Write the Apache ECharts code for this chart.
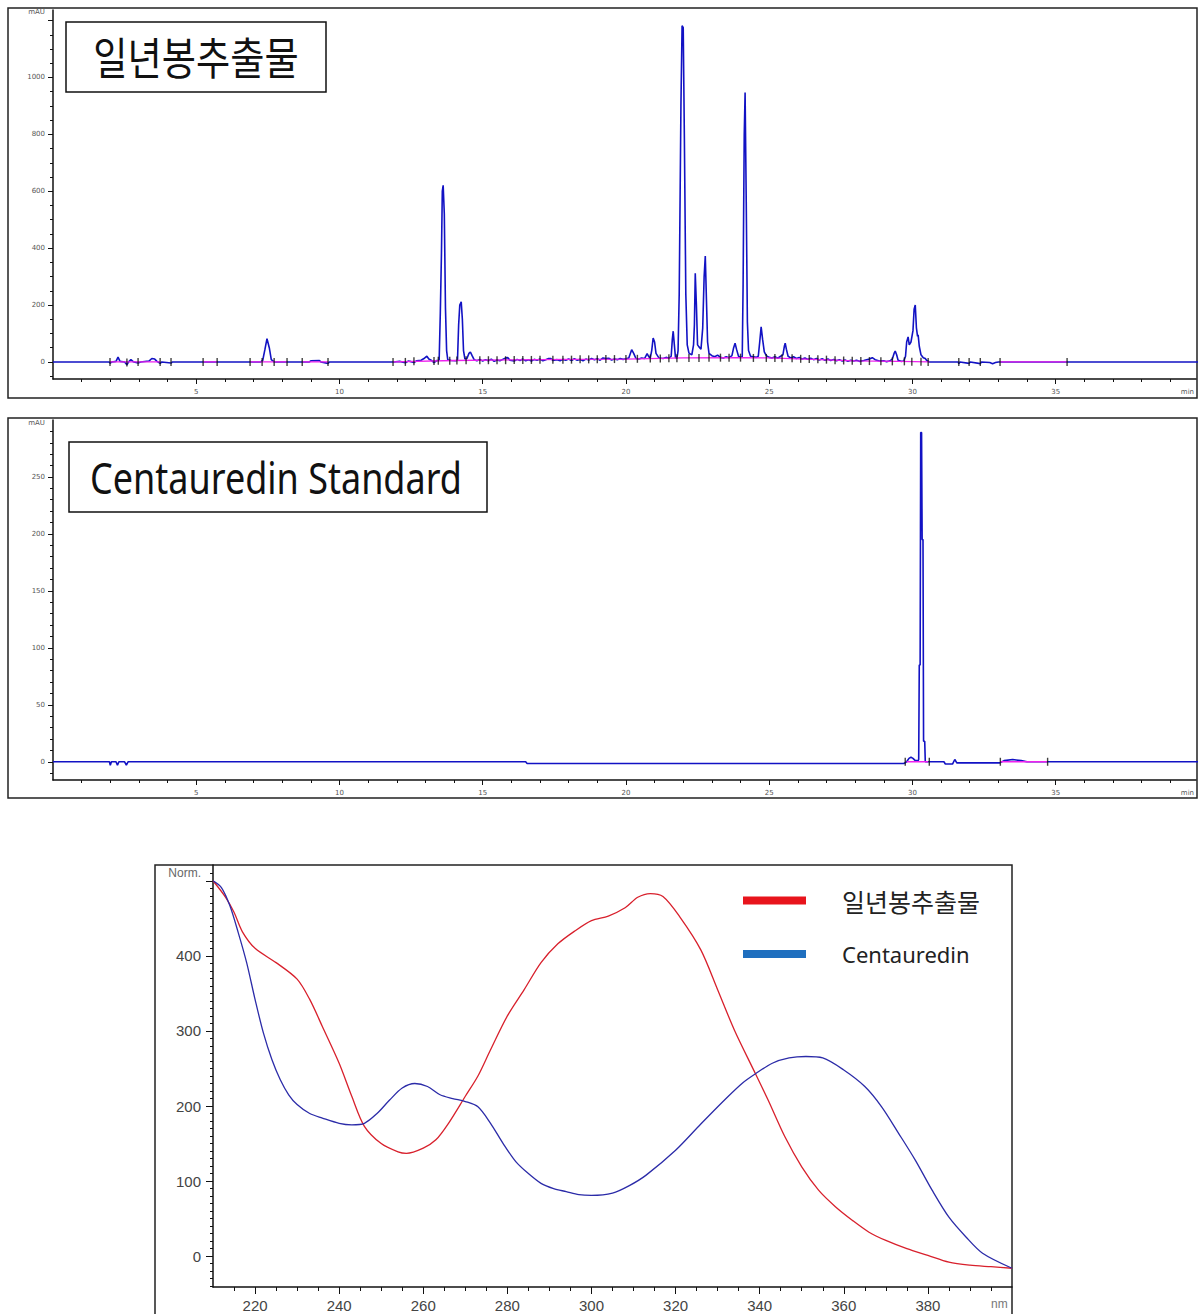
<!DOCTYPE html>
<html>
<head>
<meta charset="utf-8">
<script src="https://cdn.jsdelivr.net/npm/echarts@6/dist/echarts.min.js"></script>
<style>
html,body{margin:0;padding:0;background:#fff;}
#c{width:1201px;height:1314px;}
</style>
</head>
<body>
<div id="c"></div>
<script>
// ---------- Panel 1: 일년봉추출물 chromatogram (time min, mAU) ----------
const topTrace = [
[0,0],[1.95,0],[2.0,-4],[2.05,0],[2.2,2],[2.27,17],[2.34,2],[2.5,0],[2.58,-10],[2.64,0],[2.72,8],[2.8,1],[2.97,-4],[3.05,0],
[3.35,3],[3.45,12],[3.55,10],[3.63,2],[3.74,-5],[3.8,0],[4.12,-4],[4.17,0],[7.25,0],[7.32,5],[7.4,45],[7.47,82],[7.55,50],[7.62,8],[7.72,0],
[8.95,0],[9.0,4],[9.3,5],[9.35,0],[9.6,-5],[9.65,0],[11.9,0],[12.1,2],[12.3,-3],[12.4,3],[12.5,1],[12.6,-2],[12.7,4],[12.85,6],[12.95,12],
[13.05,20],[13.12,10],[13.2,6],[13.3,-2],[13.4,5],[13.48,6],[13.52,170],[13.56,380],[13.59,600],[13.62,621],[13.66,520],[13.7,190],[13.74,40],
[13.78,8],[13.9,5],[14.05,4],[14.12,6],[14.16,130],[14.2,200],[14.25,211],[14.29,150],[14.33,40],[14.38,10],[14.45,12],[14.52,30],[14.57,35],
[14.63,22],[14.7,8],[14.8,4],[14.9,9],[15.0,3],[15.1,8],[15.2,4],[15.3,10],[15.4,2],[15.5,7],[15.6,4],[15.7,9],[15.8,14],[15.88,15],[15.95,6],
[16.1,3],[16.2,9],[16.3,5],[16.4,10],[16.5,4],[16.6,8],[16.7,3],[16.8,9],[16.9,6],[17.0,10],[17.1,4],[17.2,8],[17.3,12],[17.38,12],[17.45,5],
[17.6,8],[17.7,4],[17.8,9],[17.9,6],[18.0,10],[18.1,5],[18.2,11],[18.3,6],[18.4,9],[18.5,4],[18.6,10],[18.7,7],[18.8,12],[18.9,8],[19.0,11],
[19.1,6],[19.2,14],[19.3,12],[19.4,13],[19.5,7],[19.6,10],[19.7,8],[19.8,12],[19.9,9],[20.0,11],[20.1,14],[20.2,43],[20.27,30],[20.35,12],
[20.45,10],[20.55,14],[20.65,12],[20.74,29],[20.8,18],[20.85,14],[20.9,40],[20.95,84],[21.0,70],[21.05,30],[21.15,14],[21.3,12],[21.4,16],
[21.5,13],[21.58,20],[21.62,80],[21.65,108],[21.69,60],[21.73,15],[21.78,12],[21.82,40],[21.86,240],[21.92,900],[21.96,1182],[22.0,1175],
[22.04,790],[22.09,240],[22.14,60],[22.2,31],[22.3,25],[22.36,60],[22.39,130],[22.42,312],[22.46,200],[22.5,60],[22.55,53],[22.62,45],
[22.68,119],[22.73,300],[22.77,372],[22.81,220],[22.85,70],[22.9,30],[23.0,22],[23.1,18],[23.2,24],[23.3,16],[23.4,14],[23.5,18],[23.6,15],
[23.7,22],[23.76,50],[23.81,66],[23.86,45],[23.93,20],[24.0,16],[24.06,18],[24.09,270],[24.13,800],[24.16,947],[24.2,561],[24.24,140],
[24.28,40],[24.35,20],[24.45,18],[24.55,16],[24.62,20],[24.67,70],[24.72,123],[24.77,80],[24.83,35],[24.9,22],[25.0,16],[25.1,14],[25.2,18],
[25.3,13],[25.4,20],[25.48,25],[25.53,55],[25.56,66],[25.6,45],[25.66,20],[25.75,14],[25.85,18],[25.95,12],[26.05,16],[26.15,10],[26.25,14],
[26.35,9],[26.45,13],[26.55,8],[26.65,12],[26.75,7],[26.85,11],[26.95,6],[27.05,10],[27.15,5],[27.25,9],[27.35,4],[27.45,8],[27.55,3],
[27.65,7],[27.75,2],[27.85,6],[27.95,3],[28.05,6],[28.15,2],[28.3,5],[28.5,10],[28.6,15],[28.7,8],[28.85,3],[29.0,4],[29.1,1],[29.2,3],
[29.3,10],[29.36,30],[29.4,38],[29.45,25],[29.5,6],[29.6,2],[29.7,3],[29.76,20],[29.8,70],[29.85,88],[29.89,60],[29.95,70],[30.02,110],
[30.06,185],[30.1,200],[30.14,120],[30.18,90],[30.2,95],[30.24,55],[30.3,25],[30.38,15],[30.45,12],[30.5,5],[30.6,0],[31.6,0],[31.62,-6],
[31.66,0],[31.98,-5],[32.02,0],[32.37,-6],[32.41,0],[32.7,-2],[32.8,-6],[32.9,-2],[33.0,0],[40,0]
];
const topBaseline = [
[1.99,0],[3.74,0],[3.75,null],[5.24,0],[5.73,0],[5.74,null],[6.88,0],[8.17,0],[8.18,null],[8.7,0],[9.6,0],[9.61,null],
[11.87,0],[14,5],[16,7],[18,9],[20,10],[22,14],[24,15],[25,14],[26,11],[28,4],[29.5,2],[30.6,0],[30.61,null],[33.06,0],[35.4,0]
];
const topMarks = [
[1.99,0],[2.58,-2],[2.97,0],[3.74,0],[4.12,0],[5.24,0],[5.73,0],[6.88,0],[7.3,0],[7.72,0],[8.17,0],[8.7,0],[9.6,0],[11.87,0],
[12.3,0],[12.6,2],[13.3,3],[13.45,4],[13.85,4],[14.1,5],[14.42,6],[14.9,6],[15.2,6],[15.5,6],[15.8,6],[16.1,7],[16.4,7],[16.7,7],
[17.0,8],[17.45,8],[17.8,8],[18.1,8],[18.4,9],[18.7,9],[19.0,9],[19.3,10],[19.6,10],[20.0,10],[20.4,11],[20.85,12],[21.2,12],[21.5,13],
[21.78,13],[22.2,14],[22.55,14],[22.9,15],[23.3,15],[23.6,15],[24.0,15],[24.45,14],[24.9,14],[25.2,14],[25.45,13],[25.8,13],[26.1,11],
[26.4,10],[26.7,9],[27.0,8],[27.3,6],[27.6,5],[27.9,4],[28.2,3],[28.5,3],[28.9,2],[29.3,2],[29.72,2],[29.98,1],[30.3,1],[30.55,0],
[31.62,0],[31.98,0],[32.37,0],[33.06,0],[35.4,0]
];

// ---------- Panel 2: Centauredin Standard chromatogram ----------
const stdTrace = [
[0,0],[1.97,0],[2.0,-3],[2.04,0],[2.2,0],[2.25,-3],[2.3,0],[2.5,0],[2.56,-3],[2.62,0],[16.5,0],[16.55,-1.5],[29.7,-1.5],[29.8,0],
[29.88,3],[29.95,4],[30.02,3],[30.1,1],[30.2,1],[30.22,2],[30.24,85],[30.27,85],[30.29,289],[30.32,289],[30.34,195],[30.37,195],
[30.39,18],[30.43,18],[30.45,0],[31.1,0],[31.15,-2],[31.4,-2],[31.48,2],[31.55,-1],[33.05,-1],[33.2,1],[33.5,2],[33.8,1],[34.0,0],[40,0]
];
const stdBaseline = [[29.8,0],[30.55,0],[30.56,null],[33.07,0],[34.72,0]];
const stdMarks = [[29.75,0],[30.59,0],[33.07,0],[34.72,0]];

// ---------- Panel 3: UV spectra (nm, Norm.) ----------
const extractSpectrum = [
[210,500],[213,478],[215,458],[217,432],[220,410],[225,391],[230,369],[233,342],[236,306],[240,257],[243,213],[246,173],
[250,150],[254,139],[256,137],[260,144],[263,155],[266,177],[270,213],[273,240],[276,275],[280,320],[284,355],[288,391],
[292,416],[296,433],[300,447],[304,453],[308,464],[311,478],[314,483],[317,479],[321,452],[326,408],[330,355],[334,301],
[339,243],[342,208],[346,159],[350,119],[354,88],[358,66],[362,48],[366,32],[370,21],[375,10],[380,1],[385,-8],[390,-12],
[395,-14],[400,-16]
];
const centauredinSpectrum = [
[210,500],[212,491],[214,467],[216,431],[218,391],[220,342],[222,297],[224,262],[226,235],[228,215],[230,202],[233,190],
[236,184],[240,177],[243,175],[246,177],[249,190],[252,208],[255,224],[258,230],[261,226],[264,215],[267,210],[270,206],
[273,199],[276,177],[279,150],[282,126],[285,110],[288,97],[291,90],[294,86],[297,82],[300,81],[305,84],[309,94],[313,108],
[320,141],[326,176],[332,210],[336,231],[339,243],[343,257],[347,264],[351,266],[355,264],[360,248],[365,226],[369,199],
[373,164],[377,128],[381,88],[385,52],[389,26],[393,4],[400,-16]
];

// ---------- tick labels ----------
const timeLabels = [5,10,15,20,25,30,35];
const topYLabels = [0,200,400,600,800,1000];
const topYTicks = [0,200,400,600,800,1000,1200];
const stdYLabels = [0,50,100,150,200,250];
const specXLabels = [220,240,260,280,300,320,340,360,380];
const specYLabels = [0,100,200,300,400];
const specYTicks = [0,100,200,300,400,500];

function minorList(start, end, step, skip) {
  const out = [];
  for (let v = start; v <= end + 1e-9; v += step) {
    const r = Math.round(v * 100) / 100;
    if (Math.abs(r / skip - Math.round(r / skip)) > 1e-6) out.push(r);
  }
  return out;
}

const smallLbl = {fontSize:7, color:'#555', fontFamily:'DejaVu Sans'};
const axisBlack = {color:'#111', width:1.5};

function chromX(gi) {
  return [
    {gridIndex:gi, type:'value', position:'bottom', min:0, max:39.9,
     axisLine:{onZero:false, lineStyle:axisBlack},
     axisTick:{customValues:timeLabels, length:5, lineStyle:{color:'#111'}},
     axisLabel:Object.assign({customValues:timeLabels.concat([39.6]), margin:9,
       formatter:v => v > 39 ? 'min' : String(v)}, smallLbl),
     splitLine:{show:false}},
    {gridIndex:gi, type:'value', position:'bottom', min:0, max:39.9,
     axisLine:{show:false, onZero:false},
     axisTick:{customValues:minorList(1,39,1,5), length:3, lineStyle:{color:'#111'}},
     axisLabel:{show:false}, splitLine:{show:false}}
  ];
}
function chromY(gi, min, max, ticks, labels, topVal, minor) {
  return [
    {gridIndex:gi, type:'value', position:'left', min:min, max:max,
     axisLine:{onZero:false, lineStyle:axisBlack},
     axisTick:{customValues:ticks, length:5, lineStyle:{color:'#111'}},
     axisLabel:Object.assign({customValues:labels.concat([topVal]), margin:8,
       formatter:v => v === topVal ? 'mAU' : String(v)}, smallLbl),
     splitLine:{show:false}},
    {gridIndex:gi, type:'value', position:'left', min:min, max:max,
     axisLine:{show:false, onZero:false},
     axisTick:{customValues:minor, length:3, lineStyle:{color:'#111'}},
     axisLabel:{show:false}, splitLine:{show:false}}
  ];
}

const xAxes = [].concat(
  chromX(0),
  chromX(1),
  [
    {gridIndex:2, type:'value', position:'bottom', min:210, max:400,
     axisLine:{onZero:false, lineStyle:axisBlack},
     axisTick:{customValues:specXLabels, length:7, lineStyle:{color:'#111'}},
     axisLabel:{customValues:specXLabels.concat([397]), margin:11, fontSize:15, color:'#444',
       fontFamily:'Liberation Sans',
       formatter:v => v === 397 ? '{u|nm}' : String(v),
       rich:{u:{fontSize:12, color:'#777', fontFamily:'Liberation Sans'}}},
     splitLine:{show:false}},
    {gridIndex:2, type:'value', position:'bottom', min:210, max:400,
     axisLine:{show:false, onZero:false},
     axisTick:{customValues:minorList(215,400,5,20), length:4, lineStyle:{color:'#111'}},
     axisLabel:{show:false}, splitLine:{show:false}}
  ]
);
const yAxes = [].concat(
  chromY(0, -60, 1237, topYTicks, topYLabels, 1230, minorList(50,1200,50,200).concat([-50])),
  chromY(1, -16, 300, stdYLabels, stdYLabels, 297, minorList(-10,290,10,50)),
  [
    {gridIndex:2, type:'value', position:'left', min:-41, max:521,
     axisLine:{onZero:false, lineStyle:axisBlack},
     axisTick:{customValues:specYTicks, length:7, lineStyle:{color:'#111'}},
     axisLabel:{customValues:specYLabels.concat([511]), margin:12, fontSize:15, color:'#444',
       fontFamily:'Liberation Sans',
       formatter:v => v === 511 ? '{n|Norm.}' : String(v),
       rich:{n:{fontSize:12, color:'#666', fontFamily:'Liberation Sans'}}},
     splitLine:{show:false}},
    {gridIndex:2, type:'value', position:'left', min:-41, max:521,
     axisLine:{show:false, onZero:false},
     axisTick:{customValues:minorList(-40,510,10,100), length:3, lineStyle:{color:'#111'}},
     axisLabel:{show:false}, splitLine:{show:false}}
  ]
);

const traceBlue = '#1212c4';
const magenta = '#ee22ee';
function chromSeries(xi, yi, trace, base, marks) {
  return [
    {type:'line', xAxisIndex:xi, yAxisIndex:yi, data:trace, symbol:'none', z:3,
     lineStyle:{color:traceBlue, width:1.6}, itemStyle:{color:traceBlue}, silent:true},
    {type:'line', xAxisIndex:xi, yAxisIndex:yi, data:base, symbol:'none', connectNulls:false, z:4,
     lineStyle:{color:magenta, width:1.3}, itemStyle:{color:magenta}, silent:true},
    {type:'scatter', xAxisIndex:xi, yAxisIndex:yi, data:marks, symbol:'rect', symbolSize:[1.4,8], z:5,
     itemStyle:{color:'#111'}, silent:true}
  ];
}

const redCol = '#d8202c';
const blueCol = '#2b2ba8';

const option = {
  animation:false,
  backgroundColor:'#ffffff',
  grid:[
    {left:53, top:10, width:1143, height:369, outerBoundsMode:'none', containLabel:false},
    {left:53, top:420, width:1143, height:360, outerBoundsMode:'none', containLabel:false},
    {left:213, top:865, width:799, height:422, outerBoundsMode:'none', containLabel:false}
  ],
  xAxis:xAxes,
  yAxis:yAxes,
  legend:{
    orient:'vertical', left:743, top:888, padding:0, itemWidth:63, itemHeight:8, itemGap:30,
    icon:'rect', selectedMode:false,
    textStyle:{fontSize:25, color:'#222', padding:[0,0,0,31], fontFamily:'Noto Sans CJK KR'},
    data:[
      {name:'일년봉추출물', itemStyle:{color:'#e8141c'}},
      {name:'Centauredin', itemStyle:{color:'#1f6fbf'}, textStyle:{fontFamily:'Noto Sans', fontSize:22}}
    ]
  },
  series:[].concat(
    chromSeries(0, 0, topTrace, topBaseline, topMarks),
    chromSeries(2, 2, stdTrace, stdBaseline, stdMarks),
    [
      {name:'일년봉추출물', type:'line', xAxisIndex:4, yAxisIndex:4, data:extractSpectrum, smooth:0.3,
       symbol:'none', lineStyle:{color:redCol, width:1.3}, itemStyle:{color:redCol}},
      {name:'Centauredin', type:'line', xAxisIndex:4, yAxisIndex:4, data:centauredinSpectrum, smooth:0.3,
       symbol:'none', lineStyle:{color:blueCol, width:1.3}, itemStyle:{color:blueCol}}
    ]
  ),
  graphic:[
    {type:'rect', shape:{x:8, y:8, width:1189, height:390}, style:{fill:'none', stroke:'#222', lineWidth:1.5}, silent:true},
    {type:'rect', shape:{x:8, y:418, width:1189, height:380}, style:{fill:'none', stroke:'#222', lineWidth:1.5}, silent:true},
    {type:'rect', shape:{x:155, y:865, width:857, height:470}, style:{fill:'none', stroke:'#222', lineWidth:1.5}, silent:true},
    {type:'rect', shape:{x:66, y:22, width:260, height:70}, style:{fill:'#fff', stroke:'#111', lineWidth:1.5}, z:10, silent:true},
    {type:'text', x:196, y:56, scaleX:0.93, scaleY:1.1, z:11, silent:true,
     style:{text:'일년봉추출물', fill:'#111', font:'40px "Noto Sans CJK KR"', textAlign:'center', textVerticalAlign:'middle'}},
    {type:'rect', shape:{x:69, y:442, width:418, height:70}, style:{fill:'#fff', stroke:'#111', lineWidth:1.5}, z:10, silent:true},
    {type:'text', x:276, y:477, scaleX:0.9, scaleY:1.08, z:11, silent:true,
     style:{text:'Centauredin Standard', fill:'#111', font:'40px "Noto Sans"', textAlign:'center', textVerticalAlign:'middle'}}
  ]
};

const chart = echarts.init(document.getElementById('c'), null, {renderer:'svg'});
chart.setOption(option);
</script>
</body>
</html>
